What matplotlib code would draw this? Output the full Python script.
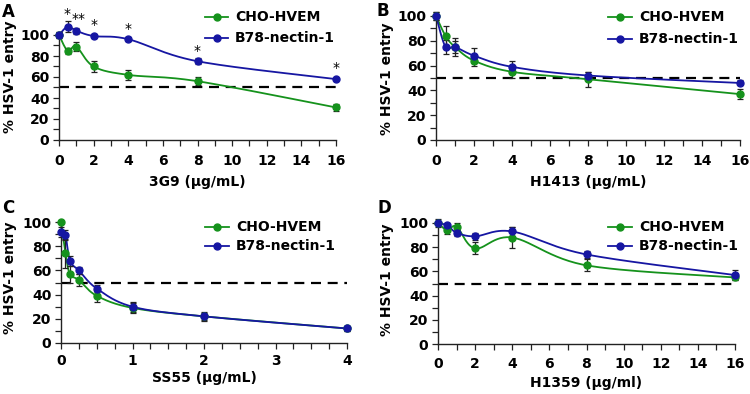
import numpy as np
import matplotlib
matplotlib.use("Agg")
import matplotlib.pyplot as plt
from matplotlib.ticker import MultipleLocator

plt.rcParams['font.family'] = ['DejaVu Sans']
plt.rcParams['font.weight'] = 'bold'

GREEN = '#15921c'
BLUE = '#1616a2'
series_names = ['CHO-HVEM', 'B78-nectin-1']

# Panel A
a_x = [0, 0.5, 1, 2, 4, 8, 16]
a_cho = [100, 85, 89, 70, 62, 56, 31]
a_cho_err = [3, 3, 4, 5, 5, 4, 3]
a_b78 = [100, 108, 104, 99, 96, 75, 58]
a_b78_err = [3, 5, 3, 2, 2, 3, 1]
a_star_x = [0.45, 1.15, 2, 4, 8, 16]
a_star_y = [120, 115, 110, 106, 85, 69]
a_star_txt = ['*', '**', '*', '*', '*', '*']

# Panel B
b_x = [0, 0.5, 1, 2, 4, 8, 16]
b_cho = [100, 84, 75, 64, 55, 49, 37]
b_cho_err = [3, 8, 7, 4, 5, 6, 4]
b_b78 = [100, 75, 75, 68, 59, 52, 46]
b_b78_err = [3, 6, 5, 6, 5, 3, 2]

# Panel C
c_x = [0, 0.0625, 0.125, 0.25, 0.5, 1, 2, 4]
c_cho = [100, 74, 57, 52, 39, 29, 22, 12]
c_cho_err = [0, 12, 7, 5, 5, 4, 4, 2]
c_b78 = [92, 89, 68, 60, 45, 30, 22, 12]
c_b78_err = [4, 4, 4, 3, 3, 4, 3, 2]

# Panel D
d_x = [0, 0.5, 1, 2, 4, 8, 16]
d_cho = [100, 94, 97, 79, 88, 65, 55]
d_cho_err = [3, 3, 3, 5, 9, 5, 2]
d_b78 = [100, 98, 92, 89, 93, 74, 57]
d_b78_err = [1, 2, 3, 3, 4, 3, 4]

W, H = 750, 394
fig = plt.figure(figsize=(W / 100, H / 100), dpi=100)


def smooth(ax, x, y, xlim, ylim, color):
    # Catmull-Rom smoothing in pixel space (Excel-like smoothed line)
    bb = ax.get_position()
    xs = (np.asarray(x, float) - xlim[0]) / (xlim[1] - xlim[0]) * bb.width * W
    ys = (np.asarray(y, float) - ylim[0]) / (ylim[1] - ylim[0]) * bb.height * H
    P = np.column_stack([xs, ys])
    n = len(P)
    out = []
    t = np.linspace(0, 1, 30)
    for i in range(n - 1):
        p0 = P[i - 1] if i > 0 else P[i]
        p1 = P[i]
        p2 = P[i + 1]
        p3 = P[i + 2] if i + 2 < n else P[i + 1]
        c1 = p1 + (p2 - p0) / 6
        c2 = p2 - (p3 - p1) / 6
        seg = ((1 - t) ** 3)[:, None] * p1 + (3 * (1 - t) ** 2 * t)[:, None] * c1 \
            + (3 * (1 - t) * t ** 2)[:, None] * c2 + (t ** 3)[:, None] * p2
        out.append(seg)
    S = np.vstack(out)
    sx = S[:, 0] / (bb.width * W) * (xlim[1] - xlim[0]) + xlim[0]
    sy = S[:, 1] / (bb.height * H) * (ylim[1] - ylim[0]) + ylim[0]
    ax.plot(sx, sy, color=color, lw=1.3, clip_on=False, zorder=2)


def panel(rect_px, x, cho, cho_err, b78, b78_err, xmax, xmajor, xminor, xlabel,
          letter, letter_px, legend_px, ylab_px, xtick_pad, xlab_pad):
    x0, x1, y100, y0 = rect_px
    ax = fig.add_axes([x0 / W, 1 - y0 / H, (x1 - x0) / W, (y0 - y100) / H])
    xlim = (0, xmax)
    ylim = (0, 100)
    ax.set_xlim(*xlim)
    ax.set_ylim(*ylim)
    for s in ['top', 'right']:
        ax.spines[s].set_visible(False)
    for s in ['left', 'bottom']:
        ax.spines[s].set_color('#222222')
        ax.spines[s].set_linewidth(1.0)
    ax.xaxis.set_major_locator(MultipleLocator(xmajor))
    ax.xaxis.set_minor_locator(MultipleLocator(xminor))
    ax.yaxis.set_major_locator(MultipleLocator(20))
    ax.yaxis.set_minor_locator(MultipleLocator(10))
    ax.tick_params(axis='both', which='both', direction='out', length=4, width=0.9,
                   color='#222222', labelsize=10, pad=3)
    ax.tick_params(axis='x', which='major', pad=xtick_pad)
    ax.plot([0, xmax], [50, 50], color='black', lw=1.6, ls=(0, (4.5, 3)), zorder=1)
    for yv, ev, col in [(cho, cho_err, GREEN), (b78, b78_err, BLUE)]:
        smooth(ax, x, yv, xlim, ylim, col)
        ax.errorbar(x, yv, yerr=ev, fmt='none', ecolor='#222222', elinewidth=0.9,
                    capsize=2.2, capthick=0.9, clip_on=False, zorder=3)
        ax.plot(x, yv, 'o', color=col, ms=5, clip_on=False, zorder=4)
    ax.set_xlabel(xlabel, fontsize=10, fontweight='bold', labelpad=xlab_pad)
    fig.text(ylab_px[0] / W, 1 - ylab_px[1] / H, '% HSV-1 entry', rotation=90,
             fontsize=10, fontweight='bold', ha='center', va='center')
    fig.text(letter_px[0] / W, 1 - letter_px[1] / H, letter, fontsize=12,
             fontweight='bold', va='top', ha='left')
    # legend drawn manually
    lx0, lx1, ly1, ly2 = legend_px
    for ly, col, name in [(ly1, GREEN, series_names[0]), (ly2, BLUE, series_names[1])]:
        fig.lines.append(plt.Line2D([lx0 / W, lx1 / W], [1 - ly / H, 1 - ly / H],
                                    color=col, lw=1.3, transform=fig.transFigure))
        fig.lines.append(plt.Line2D([(lx0 + lx1) / 2 / W], [1 - ly / H], marker='o',
                                    ms=5, color=col, transform=fig.transFigure))
        fig.text((lx1 + 7) / W, 1 - ly / H, name, fontsize=10, fontweight='bold',
                 va='center', ha='left')
    return ax


axA = panel((59, 336, 35, 140), a_x, a_cho, a_cho_err, a_b78, a_b78_err, 16, 2, 1,
            '3G9 (µg/mL)', 'A', (2, 3), (205, 228, 17, 38), (10, 77), 6, 5)
for sx, sy, st in zip(a_star_x, a_star_y, a_star_txt):
    axA.text(sx, sy, st, ha='center', va='center', fontsize=10, fontweight='normal',
             clip_on=False)

panel((436, 740, 16, 140), b_x, b_cho, b_cho_err, b_b78, b_b78_err, 16, 2, 1,
      'H1413 (µg/mL)', 'B', (376, 2), (608, 632, 17, 39), (387, 79), 6, 5)
panel((61, 347, 222, 343), c_x, c_cho, c_cho_err, c_b78, c_b78_err, 4, 1, 0.25,
      'SS55 (µg/mL)', 'C', (2, 199), (205, 229, 227, 246), (10, 278), 4, 2)
panel((438, 735, 223, 344), d_x, d_cho, d_cho_err, d_b78, d_b78_err, 16, 2, 1,
      'H1359 (µg/ml)', 'D', (377, 199), (608, 632, 227, 246), (387, 280), 5, 4)

fig.savefig('out.png', dpi=100)
